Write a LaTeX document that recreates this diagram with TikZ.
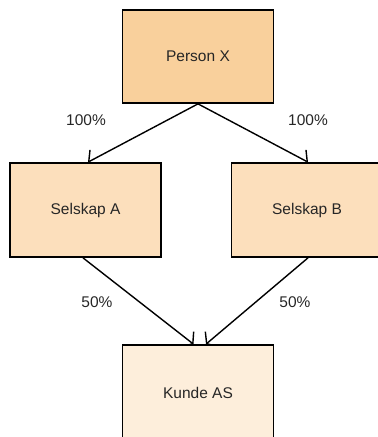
\documentclass[tikz,border=0pt]{standalone}
\usepackage{fontspec}
\setmainfont{Liberation Sans}
\usetikzlibrary{arrows.meta,backgrounds}
\definecolor{ownerfill}{HTML}{F9D09C}
\definecolor{companyfill}{HTML}{FCDFBC}
\definecolor{clientfill}{HTML}{FDEEDB}
\tikzset{
  entity/.style={draw=black, line width=1.7pt, minimum width=151pt, minimum height=94pt,
    inner sep=0pt, font=\fontsize{15.5}{17}\selectfont, text=black!85},
  share/.style={draw=black, line width=1.4pt,
    -{Straight Barb[angle=112:12pt, line width=1.4pt]}},
  pct/.style={font=\fontsize{15.5}{17}\selectfont, text=black!85}
}
\begin{document}
\begin{tikzpicture}[x=1pt,y=-1pt]
  \useasboundingbox (0,0) rectangle (378,437);
  \clip (0,0) rectangle (378,437);
  % ownership entities
  \node[entity, fill=ownerfill, minimum height=93pt] (px) at (198,56.5) {Person X};
  \node[entity, fill=companyfill] (sa) at (85.5,210) {Selskap A};
  \node[entity, fill=companyfill] (sb) at (307,210) {Selskap B};
  \node[entity, fill=clientfill, minimum height=96pt] (ka) at (198,393) {Kunde AS};
  % ownership arrows, drawn behind the boxes
  \begin{pgfonlayer}{background}
    \draw[share] (px.south) -- ([xshift=2.5pt]sa.north);
    \draw[share] (px.south) -- ([xshift=1pt]sb.north);
    \draw[share] ([xshift=-2.5pt]sa.south) -- ([xshift=-4.5pt]ka.north);
    \draw[share] ([xshift=1pt]sb.south) -- ([xshift=8pt]ka.north);
  \end{pgfonlayer}
  % ownership shares
  \node[pct] (l1) at (86,120) {100\%};
  \node[pct] (l2) at (308,120) {100\%};
  \node[pct] (l3) at (97,302) {50\%};
  \node[pct] (l4) at (295,302) {50\%};
\end{tikzpicture}
\end{document}
